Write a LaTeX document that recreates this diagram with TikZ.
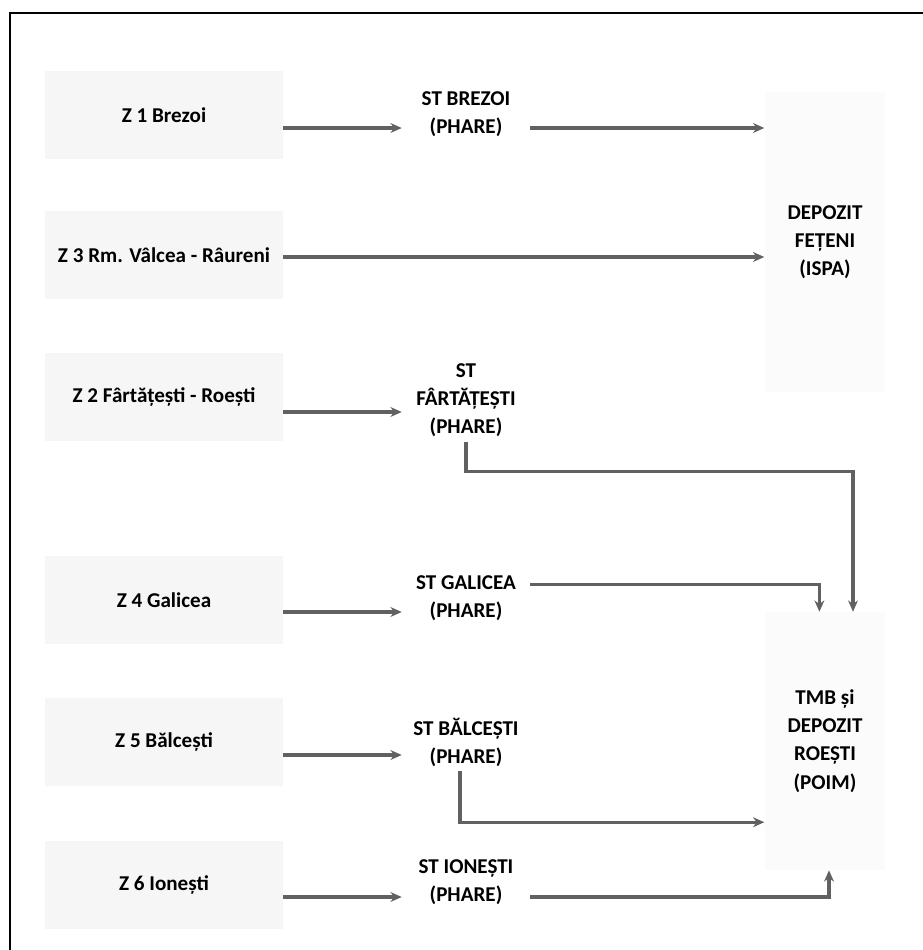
\documentclass[tikz,border=0pt]{standalone}
\usepackage{fontspec}
\setmainfont{Carlito}
\usetikzlibrary{arrows.meta}

\tikzset{
  zone/.style={fill=gray!7, minimum width=5.95cm, minimum height=2.2cm,
    font=\fontsize{15}{20}\selectfont\bfseries},
  station/.style={align=center, minimum width=3.2cm,
    font=\fontsize{15}{20}\selectfont\bfseries},
  depot/.style={fill=gray!3, align=center, minimum width=3.02cm,
    font=\fontsize{15}{20}\selectfont\bfseries},
  flow/.style={draw=black!62, line width=2.2pt,
    -{Stealth[length=8pt,width=7pt]}},
}

\begin{document}
\begin{tikzpicture}[x=0.025cm, y=-0.025cm]
    \useasboundingbox (0,0) rectangle (923,950);
    % page frame
    \draw[line width=1.3pt] (10,950) -- (10,13) -- (923,13);

    % zones
    \node[zone] (z1) at (164,115) {Z 1 Brezoi};
    \node[zone] (z3) at (164,255) {Z 3 Rm. Vâlcea - Râureni};
    \node[zone] (z2) at (164,397) {Z 2 Fârtățești - Roești};
    \node[zone] (z4) at (164,600) {Z 4 Galicea};
    \node[zone] (z5) at (164,742) {Z 5 Bălcești};
    \node[zone] (z6) at (164,885) {Z 6 Ionești};

    % transfer stations
    \node[station] (st1) at (466,114) {ST BREZOI\\(PHARE)};
    \node[station] (stF) at (466,400) {ST\\FÂRTĂȚEȘTI\\(PHARE)};
    \node[station] (stG) at (466,598) {ST GALICEA\\(PHARE)};
    \node[station] (stB) at (466,742) {ST BĂLCEȘTI\\(PHARE)};
    \node[station] (stI) at (466,882) {ST IONEȘTI\\(PHARE)};

    % depots
    \node[depot, minimum height=7.5cm] (dfet) at (825,242) {DEPOZIT\\FEȚENI\\(ISPA)};
    \node[depot, minimum height=6.45cm] (droe) at (825,741) {TMB și\\DEPOZIT\\ROEȘTI\\(POIM)};

    % arrow rows
    \coordinate (r1) at (0,128);
    \coordinate (r3) at (0,257);
    \coordinate (r2) at (0,412);
    \coordinate (r4) at (0,612);
    \coordinate (r5) at (0,755);
    \coordinate (r6) at (0,897);

    \draw[flow] (z1.east |- r1) -- (st1.west |- r1);
    \draw[flow] (st1.east |- r1) -- (dfet.west |- r1);
    \draw[flow] (z3.east |- r3) -- (dfet.west |- r3);
    \draw[flow] (z2.east |- r2) -- (stF.west |- r2);
    \draw[flow] (z4.east |- r4) -- (stG.west |- r4);
    \draw[flow] (z5.east |- r5) -- (stB.west |- r5);
    \draw[flow] (z6.east |- r6) -- (stI.west |- r6);

    % to Roesti
    \draw[flow] (stF.south) -- ++(0,30) -| ([xshift=0.7cm]droe.north);
    \draw[flow] ([yshift=0.33cm]stG.east) -| ([xshift=-0.14cm]droe.north);
    \draw[flow] ([xshift=-0.15cm]stB.south) |- ([yshift=-2.03cm]droe.west);
    \draw[flow] (stI.east |- r6) -| ([xshift=0.1cm]droe.south);
\end{tikzpicture}
\end{document}
